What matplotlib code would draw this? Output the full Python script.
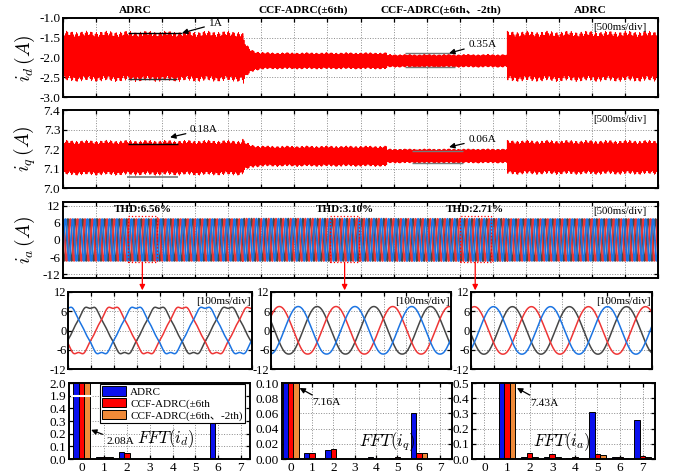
import numpy as np
import matplotlib.pyplot as plt
from matplotlib.patches import Rectangle
from matplotlib.ticker import FormatStrFormatter

plt.rcParams['font.family'] = ['Liberation Serif', 'Noto Sans CJK SC']
plt.rcParams['mathtext.fontset'] = 'cm'
plt.rcParams['axes.unicode_minus'] = False

W, H = 674, 476

# ---- data ----
# controller sequence along the 9 s record (500 ms/div, 18 div)
region_edges = [0.0, 2.72, 4.9, 6.72, 9.0]
region_names = ['ADRC', 'CCF-ADRC(±6th)', 'CCF-ADRC(±6th、-2th)', 'ADRC']

# id / iq ripple bands per region: centre and half width of the spikes (A)
id_center = [-1.97, -2.085, -2.085, -1.97]
id_half = [0.64, 0.21, 0.165, 0.64]
iq_center = [7.155, 7.163, 7.164, 7.157]
iq_half = [0.09, 0.053, 0.037, 0.088]

# ripple components of the dq currents (Hz, relative size, phase)
ripple_freq = [60.0, 73.5, 3.3]
ripple_amp = [0.88, 0.09, 0.03]
ripple_phase = [0.0, 1.3, 0.4]

# FFT spectra, harmonic order 0..7 (A)
harmonics = np.arange(8)
fft_id_adrc = [2.08, 0.015, 0.055, 0.0, 0.0, 0.004, 0.30, 0.0]
fft_id_ccf6 = [2.08, 0.015, 0.050, 0.0, 0.0, 0.0, 0.004, 0.0]
fft_id_ccf62 = [2.08, 0.018, 0.0, 0.0, 0.0, 0.0, 0.003, 0.0]
fft_iq_adrc = [7.16, 0.0079, 0.012, 0.0, 0.0026, 0.001, 0.061, 0.0005]
fft_iq_ccf6 = [7.16, 0.008, 0.013, 0.0, 0.0, 0.002, 0.008, 0.0]
fft_iq_ccf62 = [7.16, 0.0, 0.0, 0.0, 0.0, 0.0, 0.008, 0.0]
fft_ia_adrc = [0.005, 7.43, 0.015, 0.015, 0.004, 0.311, 0.010, 0.254]
fft_ia_ccf6 = [0.003, 7.43, 0.037, 0.033, 0.015, 0.033, 0.010, 0.022]
fft_ia_ccf62 = [0.002, 7.43, 0.015, 0.012, 0.004, 0.024, 0.008, 0.015]
fft_legend = ['ADRC', 'CCF-ADRC(±6th', 'CCF-ADRC(±6th、-2th)']

# phase current: cycles in the 9 s record, THD windows
ia_cycles = 81
thd_text = ['THD:6.56%', 'THD:3.10%', 'THD:2.71%']
thd_window = [(0.98, 1.42), (4.04, 4.48), (6.0, 6.47)]
thd_box_y = (-7.8, 8.3)

# zoomed windows (100 ms/div): period and first red peak, in div
zoom_period = [3.0, 2.52, 2.52]
zoom_red_peak = [1.96, 0.37, 0.15]

# colours
c_red = '#ff0000'
c_wred = '#ee3535'
c_wblue = '#1c74e2'
c_wgray = '#464646'
bar_colors = ['#0a10ee', '#ff0000', '#f08a38']

fig = plt.figure(figsize=(W / 100, H / 100), dpi=100)


def px_axes(x0, y0, x1, y1):
    return fig.add_axes([x0 / W, 1 - y1 / H, (x1 - x0) / W, (y1 - y0) / H])


def style(ax, size=9.5):
    for s in ax.spines.values():
        s.set_linewidth(1.4)
    ax.tick_params(direction='in', top=True, right=True, length=3, width=0.9,
                   labelsize=size, pad=2)
    ax.grid(True, linestyle=':', color='#8a8a8a', linewidth=0.7)
    ax.set_axisbelow(True)


# ---- id / iq traces ----
t = np.linspace(0, 9, 120000)
reg = np.clip(np.searchsorted(region_edges, t, side='right') - 1, 0, 3)
ripple = sum(a * np.sin(2 * np.pi * f * t + p)
             for a, f, p in zip(ripple_amp, ripple_freq, ripple_phase)) / sum(ripple_amp)


def band(center, half):
    c = np.asarray(center, float)[reg]
    h = np.asarray(half, float)[reg]
    m = reg == 1
    h[m] = half[1] + (half[0] - half[1]) * np.exp(-(t[m] - region_edges[1]) / 0.08)
    return c + h * ripple


ax_id = px_axes(63, 18, 658, 97)
ax_id.plot(t, band(id_center, id_half), color=c_red, lw=0.6)
ax_id.set_xlim(0, 9)
ax_id.set_ylim(-3.0, -1.0)
ax_id.set_yticks(np.arange(-3.0, -0.99, 0.5))
ax_id.yaxis.set_major_formatter(FormatStrFormatter('%.1f'))

ax_iq = px_axes(63, 110, 658, 188)
ax_iq.plot(t, band(iq_center, iq_half), color=c_red, lw=0.6)
ax_iq.set_xlim(0, 9)
ax_iq.set_ylim(7.0, 7.4)
ax_iq.set_yticks(np.arange(7.0, 7.41, 0.1))
ax_iq.yaxis.set_major_formatter(FormatStrFormatter('%.1f'))

for ax in (ax_id, ax_iq):
    style(ax)
    ax.set_xticks(np.arange(0, 9.01, 0.5))
    ax.set_xticklabels([])
    ax.text(0.98, 0.88, '[500ms/div]', transform=ax.transAxes, ha='right',
            va='center', fontsize=7.8)

arrow = dict(arrowstyle='-|>', color='black', lw=0.9, mutation_scale=8,
             shrinkA=1, shrinkB=0)

# ripple width marks
ax_id.hlines(-1.38, 0.98, 1.80, color='black', lw=1.0)
ax_id.hlines(-2.55, 0.98, 1.72, color='#303030', lw=1.0)
ax_id.annotate('1A', xy=(1.80, -1.38), xytext=(2.2, -1.15), fontsize=8.2,
               ha='left', va='center', arrowprops=arrow)
ax_id.hlines([-1.89, -2.24], 5.17, 5.93, color='#777777', lw=1.0)
ax_id.annotate('0.35A', xy=(5.84, -1.89), xytext=(6.13, -1.66), fontsize=8.2,
               ha='left', va='center', arrowprops=arrow)
ax_iq.hlines(7.226, 0.98, 1.74, color='black', lw=1.0)
ax_iq.hlines(7.056, 0.97, 1.74, color='#777777', lw=1.2)
ax_iq.annotate('0.18A', xy=(1.62, 7.26), xytext=(1.92, 7.30), fontsize=8.2,
               ha='left', va='center', arrowprops=arrow)
ax_iq.hlines([7.19, 7.128], 5.28, 6.05, color='#777777', lw=1.0)
ax_iq.annotate('0.06A', xy=(5.84, 7.21), xytext=(6.13, 7.25), fontsize=8.2,
               ha='left', va='center', arrowprops=arrow)

# region titles
title_t = [1.09, 3.63, 5.72, 7.97]
for name, tt in zip(region_names, title_t):
    ax_id.text(tt, 1.1, name, transform=ax_id.get_xaxis_transform(),
               ha='center', va='center', fontsize=8.2, fontweight='bold')

# ---- phase currents ----
harm_sign = [0, 1, 1, 1, 1, -1, 1, -1]


def phase_wave(theta, amps, shift):
    w = np.zeros_like(theta)
    for k in range(1, 8):
        w += harm_sign[k] * amps[..., k] * np.cos(k * (theta - shift))
    return w


ia_table = np.array([fft_ia_adrc, fft_ia_ccf6, fft_ia_ccf62, fft_ia_adrc])
t_a = np.linspace(0, 9, 40000)
reg_a = np.clip(np.searchsorted(region_edges, t_a, side='right') - 1, 0, 3)
amps_a = ia_table[reg_a]
theta_a = 2 * np.pi * ia_cycles / 9.0 * t_a

ax_ia = px_axes(63, 202, 658, 278)
ax_ia.plot(t_a, phase_wave(theta_a, amps_a, 4 * np.pi / 3), color=c_wgray, lw=1.3)
ax_ia.plot(t_a, phase_wave(theta_a, amps_a, 0.0), color=c_wred, lw=1.3)
ax_ia.plot(t_a, phase_wave(theta_a, amps_a, 2 * np.pi / 3), color=c_wblue, lw=1.3)
style(ax_ia)
ax_ia.set_xlim(0, 9)
ax_ia.set_ylim(-13.3, 13.3)
ax_ia.set_yticks([-12, -6, 0, 6, 12])
ax_ia.set_xticks(np.arange(0, 9.01, 0.5))
ax_ia.set_xticklabels([])
ax_ia.text(0.98, 0.88, '[500ms/div]', transform=ax_ia.transAxes, ha='right',
           va='center', fontsize=7.8)
for txt, (w0, w1) in zip(thd_text, thd_window):
    ax_ia.add_patch(Rectangle((w0, thd_box_y[0]), w1 - w0, thd_box_y[1] - thd_box_y[0],
                              fill=False, edgecolor=c_red, lw=0.9, ls=':', zorder=4))
    ax_ia.text((w0 + w1) / 2, 10.6, txt, ha='center', va='center', fontsize=8,
               fontweight='bold', zorder=5)
    ax_ia.annotate('', xy=((w0 + w1) / 2, -17.6), xytext=((w0 + w1) / 2, thd_box_y[0]),
                   annotation_clip=False,
                   arrowprops=dict(arrowstyle='-|>', color=c_red, lw=0.9,
                                   mutation_scale=8, shrinkA=0, shrinkB=0))

# y labels
fig.text(25 / W, 1 - 58 / H, r'$i_d\,(A)$', rotation=90, ha='center', va='center', fontsize=14)
fig.text(25 / W, 1 - 149 / H, r'$i_q\,(A)$', rotation=90, ha='center', va='center', fontsize=14)
fig.text(25 / W, 1 - 240 / H, r'$i_a\,(A)$', rotation=90, ha='center', va='center', fontsize=14)

# ---- zoomed windows ----
zoom_boxes = [(68, 292, 252, 369), (271, 292, 451, 369), (471, 292, 652, 369)]
zoom_spectra = [fft_ia_adrc, fft_ia_ccf6, fft_ia_ccf62]
x = np.linspace(0, 8, 1500)
for box, spec, P, t0 in zip(zoom_boxes, zoom_spectra, zoom_period, zoom_red_peak):
    ax = px_axes(*box)
    th = 2 * np.pi * (x - t0) / P
    amps = np.asarray(spec)
    ax.plot(x, phase_wave(th, amps, 4 * np.pi / 3), color=c_wgray, lw=1.1)
    ax.plot(x, phase_wave(th, amps, 0.0), color=c_wred, lw=1.1)
    ax.plot(x, phase_wave(th, amps, 2 * np.pi / 3), color=c_wblue, lw=1.1)
    style(ax, size=9)
    ax.set_xlim(0, 8)
    ax.set_ylim(-12, 12)
    ax.set_yticks([-12, -6, 0, 6, 12])
    ax.set_xticks(np.arange(0, 8.01, 1))
    ax.set_xticklabels([])
    ax.tick_params(axis='y', pad=1)
    ax.text(0.995, 0.88, '[100ms/div]', transform=ax.transAxes, ha='right',
            va='center', fontsize=8)

# ---- FFT bars ----
def brk(v):
    v = np.asarray(v, float)
    return np.where(v <= 0.5, v * 10, 5 + (v - 1.9) * 10)


offsets = [-0.25, 0.0, 0.25]
bw = 0.25

ax_f1 = px_axes(69, 383, 250, 459)
for off, vals, col, lab in zip(offsets, [fft_id_adrc, fft_id_ccf6, fft_id_ccf62],
                               bar_colors, fft_legend):
    ax_f1.bar(harmonics + off, brk(vals), bw, color=col, edgecolor='black',
              lw=0.7, label=lab)
ax_f1.plot([-0.42, 0.42], [5, 5], color='white', lw=1.5, zorder=3)
ax_f1.set_ylim(0, 6)
ax_f1.set_yticks(range(7))
ax_f1.set_yticklabels(['0.0', '0.1', '0.2', '0.3', '0.4', '1.9', '2.0'])
ax_f1.set_xlim(-0.55, 7.4)
leg = ax_f1.legend(loc='upper left', bbox_to_anchor=(0.17, 0.985), fontsize=8,
                   handlelength=2.2, handleheight=0.9, labelspacing=0.12,
                   handletextpad=0.35, borderpad=0.2, fancybox=False,
                   framealpha=1, edgecolor='black', borderaxespad=0)
leg.get_frame().set_linewidth(0.8)
ax_f1.annotate('2.08A', xy=(0.42, 2.3), xytext=(1.1, 1.4), fontsize=8.2,
               ha='left', va='center', arrowprops=arrow)
ax_f1.text(3.7, 1.6, r'$FFT(i_d)$', fontsize=12, ha='center', va='center')

ax_f2 = px_axes(282, 383, 452, 459)
for off, vals, col in zip(offsets, [fft_iq_adrc, fft_iq_ccf6, fft_iq_ccf62], bar_colors):
    ax_f2.bar(harmonics + off, vals, bw, color=col, edgecolor='black', lw=0.7)
ax_f2.set_ylim(0, 0.1)
ax_f2.set_yticks(np.arange(0, 0.101, 0.02))
ax_f2.yaxis.set_major_formatter(FormatStrFormatter('%.2f'))
ax_f2.set_xlim(-0.4, 7.55)
ax_f2.annotate('7.16A', xy=(0.42, 0.0934), xytext=(1.03, 0.0737), fontsize=8.2,
               ha='left', va='center', arrowprops=arrow)
ax_f2.text(4.53, 0.0224, r'$FFT(i_q)$', fontsize=12, ha='center', va='center')

ax_f3 = px_axes(472, 383, 655, 459)
for off, vals, col in zip(offsets, [fft_ia_adrc, fft_ia_ccf6, fft_ia_ccf62], bar_colors):
    ax_f3.bar(harmonics + off, vals, bw, color=col, edgecolor='black', lw=0.7)
ax_f3.set_ylim(0, 0.5)
ax_f3.set_yticks(np.arange(0, 0.501, 0.1))
ax_f3.yaxis.set_major_formatter(FormatStrFormatter('%.1f'))
ax_f3.set_xlim(-0.55, 7.55)
ax_f3.annotate('7.43A', xy=(1.44, 0.467), xytext=(2.02, 0.368), fontsize=8.2,
               ha='left', va='center', arrowprops=arrow)
ax_f3.text(3.44, 0.112, r'$FFT(i_a)$', fontsize=12, ha='center', va='center')

for ax in (ax_f1, ax_f2, ax_f3):
    style(ax, size=9.5)
    ax.set_xticks(harmonics)

fig.savefig('out.png', dpi=100)
